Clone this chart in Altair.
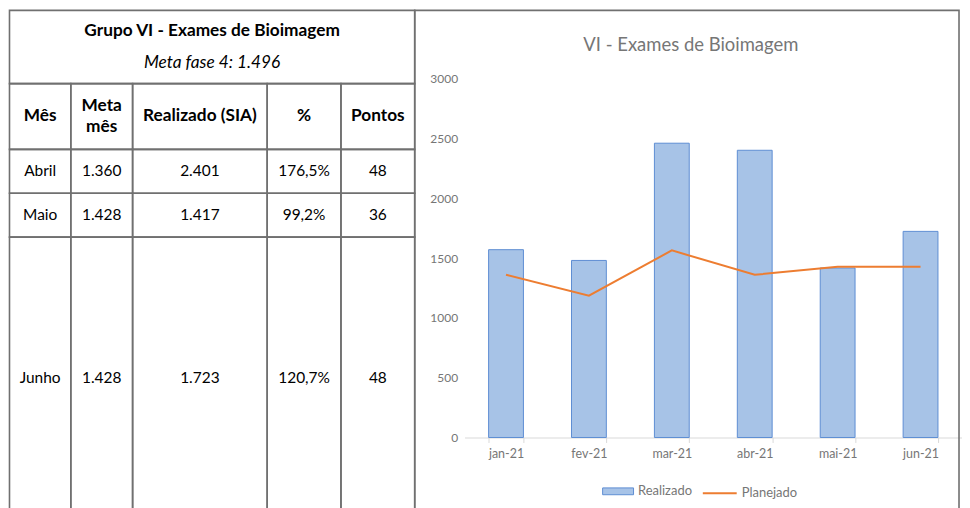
import altair as alt
import pandas as pd

# ---------------- table data ----------------
tab_title = "Grupo VI - Exames de Bioimagem"
tab_subtitle = "Meta fase 4: 1.496"
tab_headers = ["Mês", "Meta", "Realizado (SIA)", "%", "Pontos"]
tab_header2 = ["", "mês", "", "", ""]
tab_meses = ["Abril", "Maio", "Junho"]
tab_meta = ["1.360", "1.428", "1.428"]
tab_realizado = ["2.401", "1.417", "1.723"]
tab_pct = ["176,5%", "99,2%", "120,7%"]
tab_pontos = ["48", "36", "48"]

# ---------------- chart data ----------------
chart_title = "VI - Exames de Bioimagem"
categorias = ["jan-21", "fev-21", "mar-21", "abr-21", "mai-21", "jun-21"]
realizado = [1570, 1480, 2460, 2401, 1417, 1723]
planejado = [1360, 1185, 1564, 1360, 1428, 1428]
y_ticks = [0, 500, 1000, 1500, 2000, 2500, 3000]

# ---------------- layout (page pixels) ----------------
PLOT_X0, PLOT_Y0 = 465, 77
PLOT_W, PLOT_H = 499, 360
col_edges = [8.5, 70, 132, 267, 341, 415]
row_edges = [8.5, 82, 148, 192, 236, 518]
frame = (415, 8.5, 961, 540)
FONT = "Lato"
GRAY = "#767676"

sx = alt.Scale(domain=[0, 1000], range=[-PLOT_X0, 1000 - PLOT_X0], nice=False, zero=False)
sy = alt.Scale(domain=[0, 1000], range=[-PLOT_Y0, 1000 - PLOT_Y0], nice=False, zero=False)

# cells
cells = [dict(x0=frame[0], x1=frame[2], y0=frame[1], y1=frame[3])]
cells.append(dict(x0=col_edges[0], x1=col_edges[-1], y0=row_edges[0], y1=row_edges[1]))
for r in range(1, len(row_edges) - 1):
    for c in range(len(col_edges) - 1):
        cells.append(dict(x0=col_edges[c], x1=col_edges[c + 1], y0=row_edges[r], y1=row_edges[r + 1]))
cells_df = pd.DataFrame(cells)

col_c = [(col_edges[i] + col_edges[i + 1]) / 2 for i in range(len(col_edges) - 1)]
row_c = [(row_edges[i] + row_edges[i + 1]) / 2 for i in range(len(row_edges) - 1)]
tab_mid = (col_edges[0] + col_edges[-1]) / 2

bold_rows = [dict(x=tab_mid, y=29, label=tab_title)]
for i, h in enumerate(tab_headers):
    dy = -11 if tab_header2[i] else 0
    bold_rows.append(dict(x=col_c[i], y=row_c[1] + dy, label=h))
    if tab_header2[i]:
        bold_rows.append(dict(x=col_c[i], y=row_c[1] + 11, label=tab_header2[i]))
bold_df = pd.DataFrame(bold_rows)

italic_df = pd.DataFrame([dict(x=tab_mid, y=61, label=tab_subtitle)])

body_rows = []
for r, cols in enumerate(zip(tab_meses, tab_meta, tab_realizado, tab_pct, tab_pontos)):
    for c, v in enumerate(cols):
        body_rows.append(dict(x=col_c[c], y=row_c[2 + r], label=v))
body_df = pd.DataFrame(body_rows)

ctitle_df = pd.DataFrame([dict(x=692, y=43, label=chart_title)])

rects = alt.Chart(cells_df).mark_rect(fill="transparent", stroke="#707070", strokeWidth=1.6).encode(
    x=alt.X("x0:Q", scale=sx, axis=None), x2="x1:Q",
    y=alt.Y("y0:Q", scale=sy, axis=None), y2="y1:Q",
)

def txt(df, **kw):
    return alt.Chart(df).mark_text(font=FONT, align="center", baseline="middle", **kw).encode(
        x=alt.X("x:Q", scale=sx, axis=None),
        y=alt.Y("y:Q", scale=sy, axis=None),
        text="label:N",
    )

t_bold = txt(bold_df, fontSize=17.3, fontWeight="bold", color="black")
t_ital = txt(italic_df, fontSize=17.3, fontStyle="italic", color="black")
t_body = txt(body_df, fontSize=15.5, color="black")
t_ctitle = txt(ctitle_df, fontSize=18.5, color=GRAY)

# ---------------- bar + line chart ----------------
df = pd.DataFrame({"mes": categorias, "realizado": realizado, "planejado": planejado,
                   "serie": "Realizado", "serie2": "Planejado"})

def band():
    return alt.Scale(domain=categorias, paddingInner=0.58, paddingOuter=0.29)

def yscale():
    return alt.Scale(domain=[0, 3000], nice=False)

bars = alt.Chart(df).mark_bar(stroke="#5E8ED3", strokeWidth=1).encode(
    x=alt.X("mes:N", sort=categorias, scale=band(),
            axis=alt.Axis(orient="bottom", title=None, labelAngle=0, tickBand="extent",
                          domainColor="#d9d9d9", tickColor="#d9d9d9", tickSize=5,
                          labelFont=FONT, labelFontSize=12.5, labelColor=GRAY, labelPadding=5)),
    y=alt.Y("realizado:Q", scale=yscale(),
            axis=alt.Axis(orient="left", title=None, values=y_ticks, format="d", domain=False,
                          ticks=False, gridColor="#dedede", labelFont=FONT, labelFontSize=12,
                          labelColor=GRAY, labelPadding=7)),
    fill=alt.Fill("serie:N", scale=alt.Scale(domain=["Realizado"], range=["#A7C3E7"]),
                  legend=alt.Legend(orient="none", legendX=138, legendY=398, title=None,
                                    symbolType="M-1,-0.22L1,-0.22L1,0.22L-1,0.22Z", symbolSize=961,
                                    symbolStrokeColor="#5E8ED3", symbolStrokeWidth=1,
                                    labelFont=FONT, labelFontSize=13, labelColor=GRAY)),
)

line = alt.Chart(df).mark_line(strokeWidth=2).encode(
    x=alt.X("mes:N", sort=categorias, scale=band(), axis=None),
    y=alt.Y("planejado:Q", scale=yscale(), axis=None),
    stroke=alt.Stroke("serie2:N", scale=alt.Scale(domain=["Planejado"], range=["#ED7D31"]),
                      legend=alt.Legend(orient="none", legendX=238, legendY=398, title=None,
                                        symbolType="stroke", symbolSize=1156, symbolStrokeWidth=2,
                                        labelFont=FONT, labelFontSize=13, labelColor=GRAY)),
)

chart = alt.layer(rects, t_bold, t_ital, t_body, t_ctitle, bars, line).resolve_scale(
    x="independent", y="independent"
).properties(width=PLOT_W, height=PLOT_H, padding=0, background="white").configure_view(stroke=None)

chart.save("out.html", embed_options={"renderer": "svg", "actions": False})
